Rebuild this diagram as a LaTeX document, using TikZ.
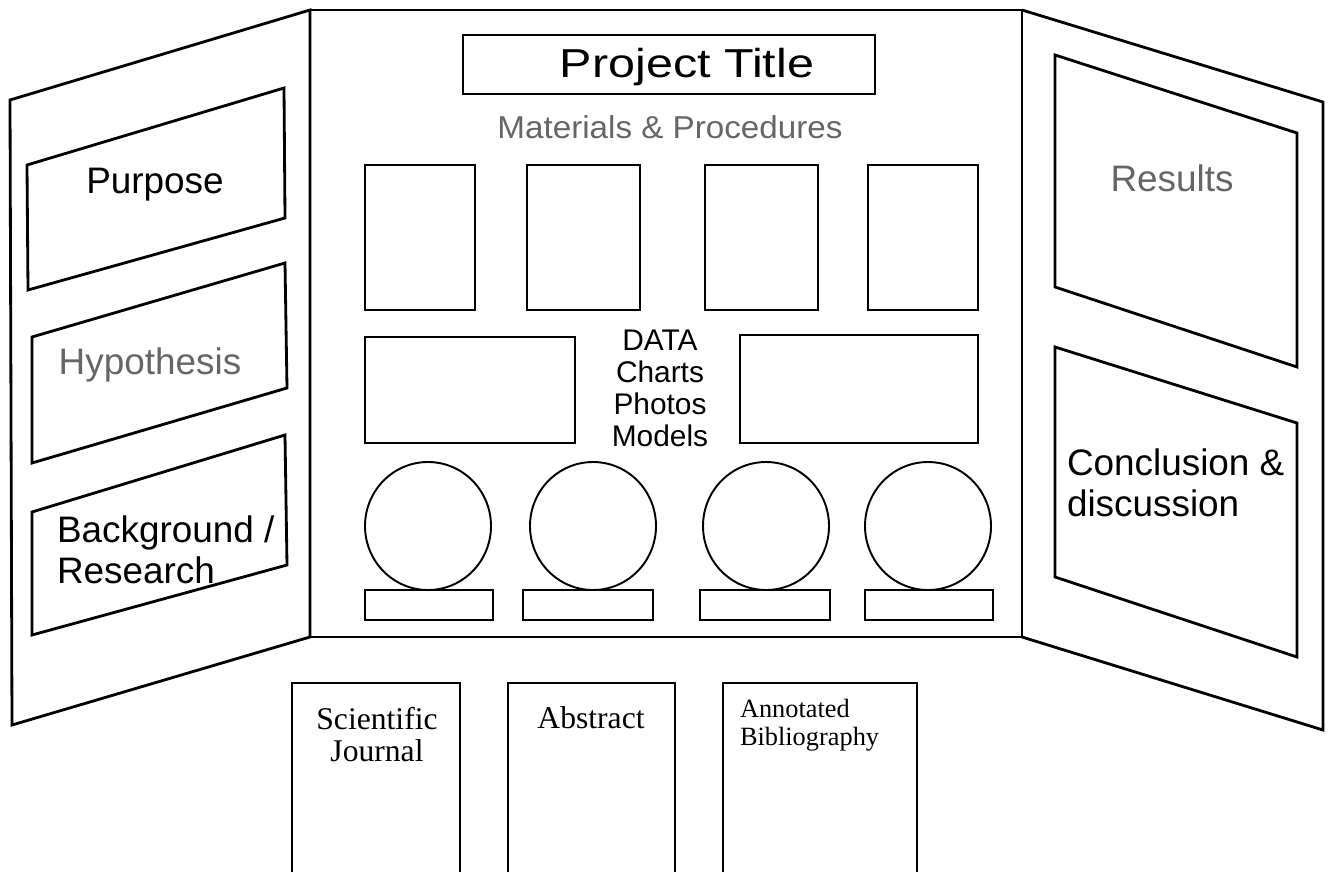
\documentclass[tikz,border=0pt]{standalone}
\usepackage{graphicx}
\usepackage{fontspec}
\setmainfont{Liberation Sans}
\newfontfamily\docfont{Liberation Serif}

\begin{document}
\begin{tikzpicture}[x=0.02cm,y=-0.02cm,inner sep=0pt,outer sep=0pt,line width=1.6pt,
sidetext/.style={font=\fontsize{21}{23}\selectfont,align=left},
doc/.style={font=\docfont\fontsize{18}{18.5}\selectfont,align=center,anchor=north}]

\useasboundingbox (0,0) rectangle (1331,872);

% board: left wing, centre, right wing
\draw (10,100) -- (310,10) -- (310,637) -- (12,725) -- cycle;
\draw (310,10) rectangle (1022,637);
\draw (1022,10) -- (1323,102) -- (1323,730) -- (1022,637);

% left wing
\draw (27,165) -- (284,88) -- (285,218) -- (28,290) -- cycle;
\draw (32,337) -- (285,263) -- (287,388) -- (32,463) -- cycle;
\draw (32,512) -- (285,435) -- (287,565) -- (32,635) -- cycle;
\node[sidetext] (purpose) at (155,185) {Purpose};
\node[sidetext,text=black!60] (hypothesis) at (150,365) {Hypothesis};
\node[sidetext,anchor=west] (background) at (57,550) {Background /\\Research};

% right wing
\draw (1055,55) -- (1297,133) -- (1297,367) -- (1055,287) -- cycle;
\draw (1055,347) -- (1297,423) -- (1297,657) -- (1055,577) -- cycle;
\node[sidetext,text=black!60] (results) at (1172,178) {Results};
\node[sidetext,anchor=west] (conclusion) at (1067,483) {Conclusion \&\\discussion};

% centre
\draw (463,35) rectangle (875,94);
\node (title) at (687,67) {\scalebox{1.2}[1]{\fontsize{23}{25}\selectfont Project Title}};
\node[text=black!60] (materials) at (670,127) {\scalebox{1.05}[1]{\fontsize{18}{20}\selectfont Materials \& Procedures}};
\draw (365,165) rectangle (475,310);
\draw (527,165) rectangle (640,310);
\draw (705,165) rectangle (818,310);
\draw (868,165) rectangle (978,310);
\draw (365,337) rectangle (575,443);
\draw (740,335) rectangle (978,443);
\node[align=center,font=\fontsize{17}{18.2}\selectfont] (data) at (660,388) {DATA\\Charts\\Photos\\Models};
\draw[line width=1.1pt] (428,526) ellipse [x radius=63,y radius=64];
\draw[line width=1.1pt] (593,526) ellipse [x radius=63,y radius=64];
\draw[line width=1.1pt] (766,526) ellipse [x radius=63,y radius=64];
\draw[line width=1.1pt] (928,526) ellipse [x radius=63,y radius=64];
\draw (365,590) rectangle (493,620);
\draw (523,590) rectangle (653,620);
\draw (700,590) rectangle (830,620);
\draw (865,590) rectangle (993,620);

% papers in front of the board
\draw[line width=0.6pt] (292,872) |- (460,683) -- (460,872);
\draw[line width=0.6pt] (508,872) |- (675,683) -- (675,872);
\draw[line width=0.6pt] (723,872) |- (917,683) -- (917,872);
\node[doc] (journal) at (377,707) {Scientific\\Journal};
\node[doc] (abstract) at (591,707) {Abstract};
\node[doc,font=\docfont\fontsize{15}{16}\selectfont,align=left,anchor=north west] (biblio) at (740,699) {Annotated\\Bibliography};
\end{tikzpicture}
\end{document}
